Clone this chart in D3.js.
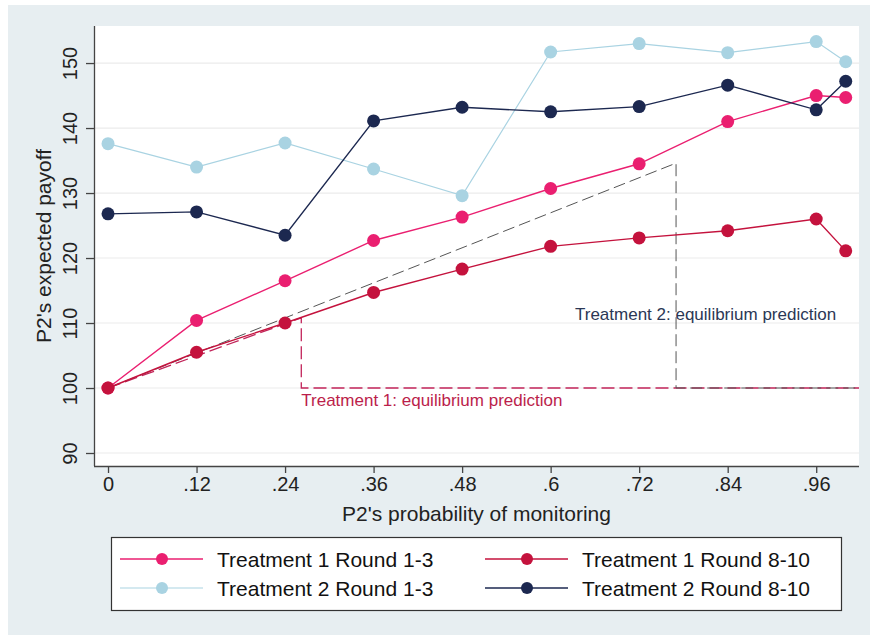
<!DOCTYPE html>
<html>
<head>
<meta charset="utf-8">
<script src="https://cdn.jsdelivr.net/npm/d3@7"></script>
<style>
  body { margin: 0; background: #fff; }
  svg text { font-family: "Liberation Sans", Arial, sans-serif; }
</style>
</head>
<body>
<div id="chart"></div>
<script>
const W = 870, H = 635;

// probability of monitoring
const probs = [0, 0.12, 0.24, 0.36, 0.48, 0.6, 0.72, 0.84, 0.96, 1.0];
const xTicks = [0, 0.12, 0.24, 0.36, 0.48, 0.6, 0.72, 0.84, 0.96];
const yTicks = [90, 100, 110, 120, 130, 140, 150];

const t1Early = [100, 110.4, 116.5, 122.7, 126.3, 130.7, 134.5, 141.0, 145.0, 144.7];
const t1Late  = [100, 105.5, 110.0, 114.7, 118.3, 121.8, 123.1, 124.2, 126.0, 121.1];
const t2Early = [137.6, 134.0, 137.7, 133.7, 129.6, 151.7, 153.0, 151.6, 153.3, 150.2];
const t2Late  = [126.8, 127.1, 123.5, 141.1, 143.2, 142.5, 143.3, 146.6, 142.8, 147.2];

// equilibrium predictions: [prob, payoff] points
const t1Pred = [[0, 100], [0.262, 110.8], [0.262, 100], [1.018, 100]];
const t2Pred = [[0, 100], [0.77, 134.6], [0.77, 100], [1.018, 100]];

const series = [
    { name: "Treatment 1 Round 1-3", values: t1Early, color: "#ea1f70", width: 1.4 },
    { name: "Treatment 1 Round 8-10", values: t1Late, color: "#c4123d", width: 1.4 },
    { name: "Treatment 2 Round 1-3", values: t2Early, color: "#a9d3e2", width: 1.2 },
    { name: "Treatment 2 Round 8-10", values: t2Late, color: "#1c2850", width: 1.4 }
];

const plot = { left: 94, right: 859, top: 26, bottom: 466 };

const svg = d3.select("#chart").append("svg")
    .attr("width", W)
    .attr("height", H);

svg.append("rect")
    .attr("x", 8).attr("y", 5)
    .attr("width", W - 8).attr("height", H - 5)
    .attr("fill", "#e7eef1");

svg.append("rect")
    .attr("x", plot.left).attr("y", plot.top)
    .attr("width", plot.right - plot.left)
    .attr("height", plot.bottom - plot.top)
    .attr("fill", "#fff");

const x = d3.scaleLinear().domain([-0.019, 1.018]).range([plot.left, plot.right]);
const y = d3.scaleLinear().domain([88, 155.7]).range([plot.bottom, plot.top]);

// grid
svg.append("g").selectAll("line")
    .data(yTicks)
    .enter().append("line")
    .attr("x1", plot.left).attr("x2", plot.right)
    .attr("y1", d => y(d)).attr("y2", d => y(d))
    .attr("stroke", "#ebebeb")
    .attr("stroke-width", 1.2);

const fmtProb = d => d === 0 ? "0" : d3.format(".2~f")(d).replace(/^0/, "");

const xAxis = svg.append("g")
    .attr("transform", `translate(0,${plot.bottom})`)
    .call(d3.axisBottom(x).tickValues(xTicks).tickFormat(fmtProb).tickSize(7).tickPadding(4));
xAxis.select(".domain").attr("d", `M${plot.left},0.5H${plot.right}`);
xAxis.selectAll("text").attr("font-size", 20).attr("fill", "#222");

const yAxis = svg.append("g")
    .attr("transform", `translate(${plot.left},0)`)
    .call(d3.axisLeft(y).tickValues(yTicks).tickSize(8));
yAxis.select(".domain").attr("d", `M0.5,${plot.top}V${plot.bottom}`);
yAxis.selectAll(".tick text")
    .attr("x", null).attr("dy", null)
    .attr("transform", "translate(-17,0) rotate(-90)")
    .attr("text-anchor", "middle")
    .attr("font-size", 20)
    .attr("fill", "#222");
svg.selectAll(".domain, .tick line").attr("stroke", "#444").attr("stroke-width", 1.3);

svg.append("text")
    .attr("transform", `translate(51,${(plot.top + plot.bottom) / 2}) rotate(-90)`)
    .attr("text-anchor", "middle")
    .attr("font-size", 21)
    .attr("fill", "#222")
    .text("P2's expected payoff");

svg.append("text")
    .attr("x", (plot.left + plot.right) / 2)
    .attr("y", 521)
    .attr("text-anchor", "middle")
    .attr("font-size", 21)
    .attr("fill", "#222")
    .text("P2's probability of monitoring");

// equilibrium prediction lines
const predLine = d3.line().x(d => x(d[0])).y(d => y(d[1]));

svg.append("path")
    .attr("d", predLine(t1Pred))
    .attr("fill", "none")
    .attr("stroke", "#c2245a")
    .attr("stroke-width", 1.3)
    .attr("stroke-dasharray", "13,5");

svg.append("path")
    .attr("d", predLine(t2Pred))
    .attr("fill", "none")
    .attr("stroke", "#555")
    .attr("stroke-width", 1)
    .attr("stroke-dasharray", "12,5");

svg.append("text")
    .attr("x", x(0.262))
    .attr("y", 406)
    .attr("font-size", 17)
    .attr("fill", "#bb1e4b")
    .text("Treatment 1: equilibrium prediction");

svg.append("text")
    .attr("x", 575)
    .attr("y", 320)
    .attr("font-size", 17)
    .attr("fill", "#2b3755")
    .text("Treatment 2: equilibrium prediction");

// data series
const line = d3.line().x((d, i) => x(probs[i])).y(d => y(d));

series.forEach(s => {
    const g = svg.append("g");
    g.append("path")
        .attr("d", line(s.values))
        .attr("fill", "none")
        .attr("stroke", s.color)
        .attr("stroke-width", s.width);
    g.selectAll("circle")
        .data(s.values)
        .enter().append("circle")
        .attr("cx", (d, i) => x(probs[i]))
        .attr("cy", d => y(d))
        .attr("r", 6.5)
        .attr("fill", s.color);
});

// legend
svg.append("rect")
    .attr("x", 111.5).attr("y", 537.5)
    .attr("width", 730).attr("height", 73)
    .attr("fill", "#fff")
    .attr("stroke", "#333")
    .attr("stroke-width", 1.2);

const legend = svg.selectAll(".legend")
    .data(series)
    .enter().append("g")
    .attr("class", "legend")
    .attr("transform", (d, i) => `translate(${i % 2 ? 485 : 120},${i < 2 ? 559 : 588})`);
legend.append("line")
    .attr("x1", 0).attr("x2", 83)
    .attr("stroke", d => d.color)
    .attr("stroke-width", d => d.width);
legend.append("circle")
    .attr("cx", 42)
    .attr("r", 6)
    .attr("fill", d => d.color);
legend.append("text")
    .attr("x", 97)
    .attr("dy", "0.36em")
    .attr("font-size", 21)
    .attr("fill", "#111")
    .text(d => d.name);
</script>
</body>
</html>
